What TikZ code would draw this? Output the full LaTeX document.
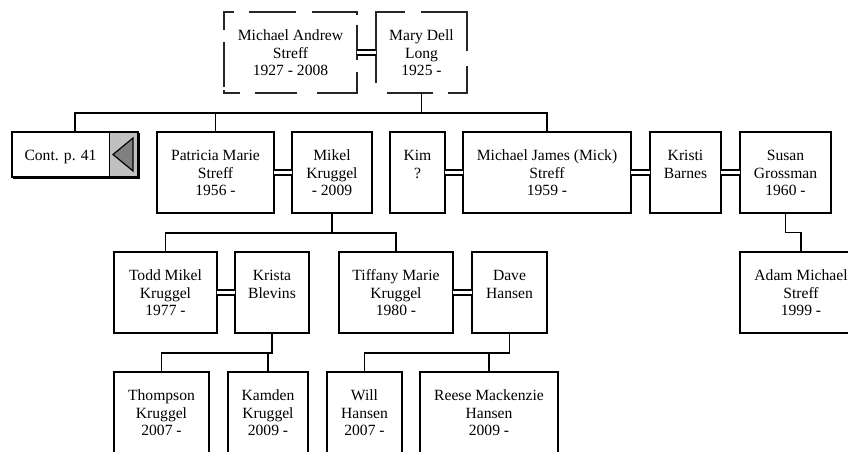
\documentclass[tikz,border=0pt]{standalone}
\usepackage{fontspec}
\setmainfont{Liberation Serif}
\definecolor{boxgray}{HTML}{C0C0C0}
\definecolor{trigray}{HTML}{808080}
\tikzset{
  pbox/.style={draw, line width=1.8pt, rectangle, inner sep=0pt, outer sep=0pt, anchor=north},
  dbox/.style={rectangle, inner sep=0pt, outer sep=0pt, anchor=north},
  dashseg/.style={line width=1.4pt, draw=black!85, line cap=butt, line join=miter},
  ptxt/.style={anchor=north, align=center, inner sep=0pt, font=\fontsize{15.6}{17.5}\selectfont},
  link/.style={line width=1.8pt},
  wed/.style={double, line width=1.3pt, double distance=3.5pt},
}
\newcommand\person[7]{%
  \node[#6, minimum width=#4pt, minimum height=#5pt] (#1) at (#2,#3) {};
  \node[ptxt] (#1t) at ([yshift=-16.25pt]#1.north) {\strut #7};}
\begin{document}
\begin{tikzpicture}[x=1pt,y=-1pt]
\useasboundingbox[fill=white] (0,0) rectangle (848,451);
% generation 0 (dashed outlines drawn directly)
\person{ma}{290.5}{12}{133}{81}{dbox}{Michael Andrew\\Streff\\1927 - 2008}
\person{md}{421.5}{12}{91}{81}{dbox}{Mary Dell\\Long\\1925 -}
\draw[dashseg] (224,30)--(224,12)--(234,12);
\draw[dashseg] (249,12)--(296,12);
\draw[dashseg] (312,12)--(357,12)--(357,15);
\draw[dashseg] (357,25)--(357,60);
\draw[dashseg] (357,72)--(357,93)--(317,93);
\draw[dashseg] (297,93)--(255,93);
\draw[dashseg] (240,93)--(224,93)--(224,90);
\draw[dashseg] (224,87)--(224,42);
\draw[dashseg] (376,83)--(376,12)--(405,12);
\draw[dashseg] (421,12)--(467,12)--(467,51);
\draw[dashseg] (467,66)--(467,93)--(448,93);
\draw[dashseg] (433,93)--(387,93);
% generation 1
\node[pbox, minimum width=126pt, minimum height=45pt] (cont) at (75,132) {};
\fill[boxgray] ([xshift=-29pt]cont.north east) rectangle (cont.south east);
\draw[line width=1pt] ([xshift=-29pt]cont.north east) -- ([xshift=-29pt]cont.south east);
\draw[line width=1.8pt] (cont.north west) rectangle (cont.south east);
\draw[line width=1.4pt] ([xshift=1.4pt,yshift=-1pt]cont.north east) -- ([xshift=1.4pt,yshift=-1.4pt]cont.south east) -- ([xshift=1pt,yshift=-1.4pt]cont.south west);
\draw[fill=trigray, line width=1.2pt, line join=miter] ([xshift=-25pt]cont.east) -- ([xshift=-5pt,yshift=16.5pt]cont.east) -- ([xshift=-5pt,yshift=-16.5pt]cont.east) -- cycle;
\node[ptxt] (contt) at ([xshift=-14.5pt,yshift=-16.25pt]cont.north) {\strut Cont. p. 41};
\person{pat}{215.5}{132}{117}{81}{pbox}{Patricia Marie\\Streff\\1956 -}
\person{mik}{332}{132}{80}{81}{pbox}{Mikel\\Kruggel\\- 2009}
\person{kim}{417.5}{132}{55}{81}{pbox}{Kim\\?}
\person{mj}{547}{132}{168}{81}{pbox}{Michael James (Mick)\\Streff\\1959 -}
\person{kri}{685.5}{132}{71}{81}{pbox}{Kristi\\Barnes}
\person{sus}{785.5}{132}{91}{81}{pbox}{Susan\\Grossman\\1960 -}
% generation 2
\person{todd}{165.5}{252}{103}{81}{pbox}{Todd Mikel\\Kruggel\\1977 -}
\person{krista}{272}{252}{74}{81}{pbox}{Krista\\Blevins}
\person{tif}{396}{252}{114}{81}{pbox}{Tiffany Marie\\Kruggel\\1980 -}
\person{dave}{509.5}{252}{75}{81}{pbox}{Dave\\Hansen}
\person{adam}{801}{252}{122}{81}{pbox}{Adam Michael\\Streff\\1999 -}
% generation 3
\person{thom}{161.5}{372}{95}{81}{pbox}{Thompson\\Kruggel\\2007 -}
\person{kam}{268}{372}{80}{81}{pbox}{Kamden\\Kruggel\\2009 -}
\person{will}{364.5}{372}{75}{81}{pbox}{Will\\Hansen\\2007 -}
\person{reese}{489}{372}{138}{81}{pbox}{Reese Mackenzie\\Hansen\\2009 -}
% marriages
\draw[wed] (ma.east) -- (md.west);
\draw[wed] (pat.east) -- (mik.west);
\draw[wed] (kim.east) -- (mj.west);
\draw[wed] (mj.east) -- (kri.west);
\draw[wed] (kri.east) -- (sus.west);
\draw[wed] (todd.east) -- (krista.west);
\draw[wed] (tif.east) -- (dave.west);
% descent
\coordinate (b1) at (0,113);
\coordinate (b2) at (0,233);
\coordinate (b3) at (0,353);
\coordinate (b4) at (0,232.5);
\draw[link] (md.south) -- (md.south |- b1);
\draw[link] (cont.north) |- (mj.north |- b1) -- (mj.north);
\draw[link] (pat.north) -- (pat.north |- b1);
\draw[link] (mik.south) -- (mik.south |- b2);
\draw[link] (todd.north) |- (tif.north |- b2) -- (tif.north);
\draw[link] (krista.south) |- (thom.north |- b3) -- (thom.north);
\draw[link] (kam.north) -- (kam.north |- b3);
\draw[link] (dave.south) |- (will.north |- b3) -- (will.north);
\draw[link] (reese.north) -- (reese.north |- b3);
\draw[link] (sus.south) |- (adam.north |- b4) -- (adam.north);
\end{tikzpicture}
\end{document}
